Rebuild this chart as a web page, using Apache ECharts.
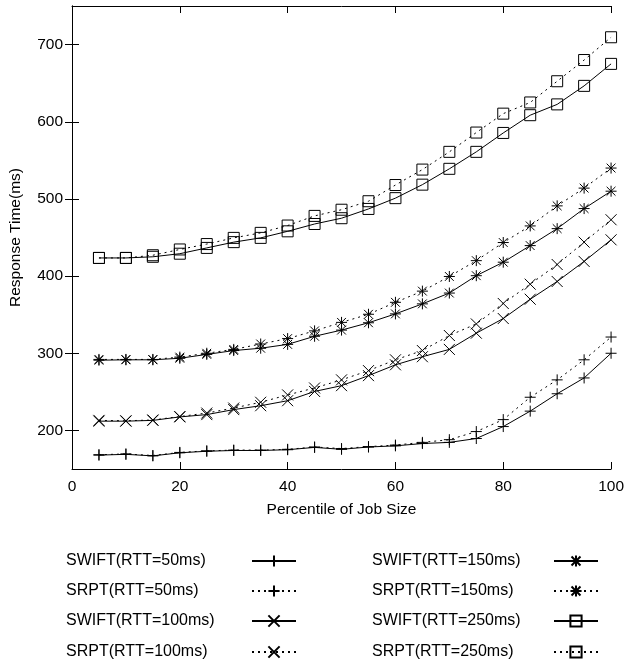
<!DOCTYPE html>
<html><head><meta charset="utf-8">
<script src="https://cdn.jsdelivr.net/npm/echarts@6/dist/echarts.min.js"></script>
<style>html,body{margin:0;padding:0;background:#fff}#c{width:627px;height:660px}</style>
</head><body><div id="c"></div>
<script>
// ---- data ----
const percentiles = [5,10,15,20,25,30,35,40,45,50,55,60,65,70,75,80,85,90,95,100];
const swift50  = [168,169,167,171,173,174,174,175,178,175.5,178.5,180,183,184.5,189.5,205,225,247.5,268,300];
const srpt50   = [168.5,169.5,167.5,171.5,173.5,174.5,174.5,175.5,178.5,176.5,179,181,184.5,188,198.5,214,243,265.5,291.5,321];
const swift100 = [212,212,213,217.5,220.5,227,232,238.5,250.5,258,271,285,295.5,305,326,345,370,393,419,447];
const srpt100  = [213,212.5,213.5,218,222.5,229,236.5,246,255,265.5,277.5,291.5,303.5,323,338,364.5,389.5,415,444,473];
const swift150 = [291,291.5,291.5,293.5,298.5,303.5,306.5,311.5,322,330,339.5,351,364,378,400.5,418,439.5,461.5,487.5,510];
const srpt150  = [292,292,292,295,300,305,312,319,329,340,350.5,366,380.5,399.5,420,443.5,465,491,514,540];
const swift250 = [423.5,423.5,425,429,436.5,444,449.5,458,467.5,475,487,501,518.5,539,561,585.5,608.5,622.5,646.5,675];
const srpt250  = [423.5,423.5,427,434.5,441.5,449.5,456,465.5,478,486,497,518,538,561,586,610.5,625,652.5,680,709.5];
const xTicks = [0,20,40,60,80,100];
const yTicks = [200,300,400,500,600,700];
const names = ['SWIFT(RTT=50ms)','SRPT(RTT=50ms)','SWIFT(RTT=100ms)','SRPT(RTT=100ms)',
               'SWIFT(RTT=150ms)','SRPT(RTT=150ms)','SWIFT(RTT=250ms)','SRPT(RTT=250ms)'];

// ---- styles ----
const FONT = '"Liberation Sans", Arial, Helvetica, sans-serif';
const SYM = {
  plus: 'path://M0,5L10,5M5,0L5,10',
  cross: 'path://M0,0L10,10M10,0L0,10',
  star: 'path://M0,5L10,5M5,0L5,10M1,1L9,9M9,1L1,9',
  square: 'path://M0,0L10,0L10,10L0,10Z'
};
const seriesDefs = [
  [names[0], swift50, SYM.plus, 'solid'],
  [names[1], srpt50, SYM.plus, 'dashed'],
  [names[2], swift100, SYM.cross, 'solid'],
  [names[3], srpt100, SYM.cross, 'dashed'],
  [names[4], swift150, SYM.star, 'solid'],
  [names[5], srpt150, SYM.star, 'dashed'],
  [names[6], swift250, SYM.square, 'solid'],
  [names[7], srpt250, SYM.square, 'dashed']
];
const series = seriesDefs.map(([name, vals, sym, ls]) => ({
  name, type: 'line',
  data: percentiles.map((p, i) => [p, vals[i]]),
  symbol: sym, symbolSize: 11, showSymbol: true, showAllSymbol: true,
  lineStyle: {color: '#000', width: 1, type: ls === 'dashed' ? [2, 4] : 'solid'},
  itemStyle: {color: 'rgba(0,0,0,0)', borderColor: '#000', borderWidth: 1},
  emphasis: {disabled: true},
  z: ls === 'dashed' ? 3 : 2
}));

const axisCommon = {
  axisLine: {show: true, lineStyle: {color: '#000', width: 1}},
  axisTick: {show: true, inside: true, length: 7, lineStyle: {color: '#000'}},
  splitLine: {show: false}
};
const labelStyle = {color: '#000', fontSize: 15.5, fontFamily: FONT};

// legend: 2 columns x 4 rows, text left-aligned, icon to the right
const legendCols = [{left: 66, w: 181}, {left: 372, w: 177}];
const legendRowTop = [553, 583, 613, 644];
const legends = names.map((n, i) => {
  const col = legendCols[Math.floor(i / 4)];
  return {
    orient: 'vertical', align: 'right', padding: 0,
    left: col.left, top: legendRowTop[i % 4],
    itemWidth: 44, itemHeight: 14, selectedMode: false,
    data: [n],
    formatter: s => '{t|' + s + '}',
    textStyle: {rich: {t: {width: col.w, align: 'left', fontSize: 16, fontFamily: FONT, color: '#000', lineHeight: 16}}}
  };
});

const option = {
  animation: false,
  backgroundColor: '#fff',
  grid: {left: 70, top: 6, right: 13, bottom: 191, containLabel: false},
  xAxis: [
    Object.assign({type: 'value', min: 0, max: 100, interval: 20, position: 'bottom',
      name: 'Percentile of Job Size', nameLocation: 'middle', nameGap: 33,
      nameTextStyle: Object.assign({}, labelStyle),
      axisLabel: Object.assign({margin: 10, customValues: xTicks}, labelStyle)}, axisCommon),
    Object.assign({type: 'value', min: 0, max: 100, interval: 20, position: 'top',
      axisLabel: {show: false}}, axisCommon)
  ],
  yAxis: [
    Object.assign({type: 'value', min: 150, max: 750, position: 'left',
      name: 'Response Time(ms)', nameLocation: 'middle', nameGap: 48,
      nameTextStyle: Object.assign({}, labelStyle),
      axisLabel: Object.assign({margin: 9, customValues: yTicks}, labelStyle)},
      axisCommon, {axisTick: Object.assign({}, axisCommon.axisTick, {customValues: yTicks})}),
    Object.assign({type: 'value', min: 150, max: 750, position: 'right',
      axisLabel: {show: false}},
      axisCommon, {axisTick: Object.assign({}, axisCommon.axisTick, {customValues: yTicks})})
  ],
  legend: legends,
  series
};
const chart = echarts.init(document.getElementById('c'), null, {renderer: 'canvas'});
chart.setOption(option);
</script></body></html>
